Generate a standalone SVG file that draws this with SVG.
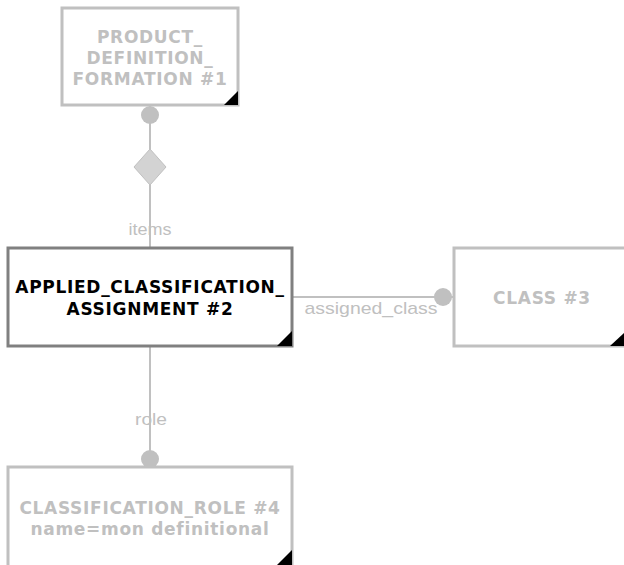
<svg xmlns="http://www.w3.org/2000/svg" width="624" height="565" viewBox="0 0 624 565">
  <style>
    .box { fill: #ffffff; stroke: #c0c0c0; stroke-width: 3; }
    .box.focus { stroke: #808080; }
    .title { font-family: "DejaVu Sans", Verdana, sans-serif; font-weight: bold; font-size: 17px; letter-spacing: 0.7px; fill: #c0c0c0; text-anchor: middle; }
    .title.focus { fill: #000000; }
    .corner { fill: #000000; }
    .wire { stroke: #c0c0c0; stroke-width: 2; fill: none; }
    .dot { fill: #c0c0c0; }
    .diamond { fill: #d3d3d3; stroke: #c0c0c0; stroke-width: 1; }
    .role { font-family: "Liberation Sans", Arial, sans-serif; font-size: 17px; fill: #c0c0c0; text-anchor: middle; }
  </style>

  <g id="connectors">
    <!-- items -->
    <line class="wire" x1="150" y1="106" x2="150" y2="248"/>
    <circle class="dot" cx="150" cy="115" r="9"/>
    <polygon class="diamond" points="150,149 166,167 150,185 134,167"/>
    <text class="role" x="150" y="235" textLength="43" lengthAdjust="spacingAndGlyphs">items</text>
    <!-- assigned_class -->
    <line class="wire" x1="292" y1="297" x2="453" y2="297"/>
    <circle class="dot" cx="443" cy="297" r="9"/>
    <text class="role" x="371" y="314" textLength="133" lengthAdjust="spacingAndGlyphs">assigned_class</text>
    <!-- role -->
    <line class="wire" x1="150" y1="346" x2="150" y2="467"/>
    <circle class="dot" cx="150" cy="459" r="9"/>
    <text class="role" x="151" y="425" textLength="32" lengthAdjust="spacingAndGlyphs">role</text>
  </g>

  <g id="node1">
    <rect class="box" x="62" y="8" width="176" height="97"/>
    <polygon class="corner" points="224,105 238,105 238,91"/>
    <text class="title" x="150" y="43">PRODUCT_</text>
    <text class="title" x="150" y="64">DEFINITION_</text>
    <text class="title" x="150" y="85">FORMATION #1</text>
  </g>

  <g id="node2">
    <rect class="box focus" x="8" y="248" width="284" height="98"/>
    <polygon class="corner" points="277,346 292,346 292,331"/>
    <text class="title focus" x="150" y="293">APPLIED_CLASSIFICATION_</text>
    <text class="title focus" x="150" y="315">ASSIGNMENT #2</text>
  </g>

  <g id="node3">
    <rect class="box" x="454" y="248" width="176" height="98"/>
    <polygon class="corner" points="610,346 626,346 626,331"/>
    <text class="title" x="542" y="304">CLASS #3</text>
  </g>

  <g id="node4">
    <rect class="box" x="8" y="467" width="284" height="104"/>
    <polygon class="corner" points="277,565 292,565 292,550"/>
    <text class="title" x="150" y="514">CLASSIFICATION_ROLE #4</text>
    <text class="title" x="150" y="535">name=mon definitional</text>
  </g>
</svg>
